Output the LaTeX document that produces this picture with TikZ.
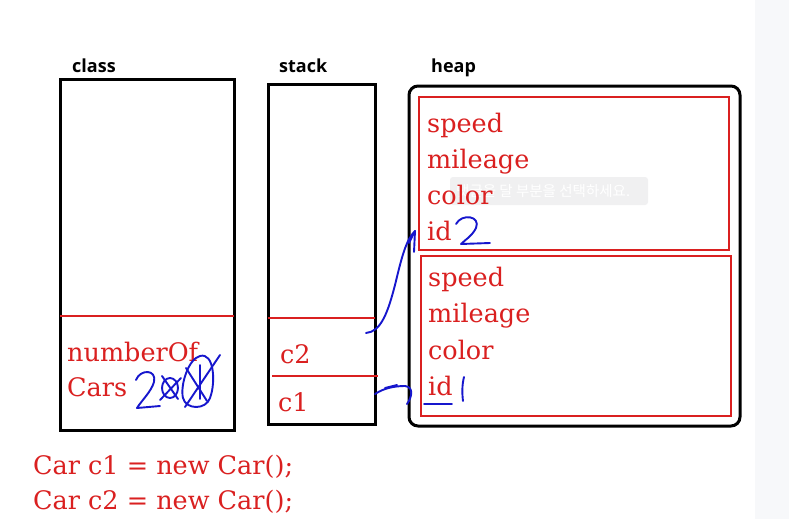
\documentclass[tikz,border=0pt]{standalone}
\usepackage{fontspec}
\usepackage{xcolor}
\setmainfont{DejaVu Serif}
\newfontfamily\headfont{Open Sans}
\newfontfamily\krfont{Noto Sans CJK KR}
\usetikzlibrary{positioning}
\definecolor{memred}{RGB}{218,32,32}
\definecolor{penblue}{RGB}{22,22,205}
\definecolor{sidegray}{RGB}{247,248,250}
\definecolor{tipgray}{RGB}{240,240,241}

\begin{document}
\begin{tikzpicture}[x=1pt, y=-1pt,
  area/.style={black, line width=3pt},
  divider/.style={memred, line width=1.8pt},
  objbox/.style={memred, line width=2pt},
  field/.style={anchor=base west, inner sep=0pt, text=memred, font=\fontsize{25.5}{25.5}\selectfont},
  title/.style={anchor=base west, inner sep=0pt, font=\headfont\bfseries\fontsize{18}{18}\selectfont},
  pen/.style={penblue, line width=1.9pt, line cap=round, line join=round}]
\useasboundingbox (0,0) rectangle (789,519);
\fill[white] (0,0) rectangle (755,519);
\fill[sidegray] (755,0) rectangle (789,519);
% the three memory areas
\node[title] (classlbl) at (72,72) {class};
\node[title] (stacklbl) at (279,72) {stack};
\node[title] (heaplbl) at (431,72) {heap};
\draw[area] (60,79) rectangle (234,430);
\draw[area] (268,84) rectangle (375,424);
\draw[area, rounded corners=9pt] (409,86) rectangle (740,426);
\draw[divider] (60,316) -- (234,316);
\draw[divider] (268,318) -- (375,318);
\draw[divider] (272,376) -- (378,376);
% faint tooltip of the editor
\fill[tipgray, rounded corners=3pt] (450,177) rectangle (648,205);
\node[anchor=west, inner sep=0pt, text=white, font=\krfont\fontsize{14.5}{14.5}\selectfont] (tip) at (456,191) {댓글을 달 부분을 선택하세요.};
% two objects on the heap
\draw[objbox] (419,97) rectangle (729,250);
\draw[objbox] (421,256) rectangle (731,416);
\foreach \f [count=\i] in {speed,mileage,color,id}
  \node[field] (top\f) at (427,96+36*\i) {\f};
\foreach \f [count=\i] in {speed,mileage,color,id}
  \node[field] (low\f) at (428,249.5+36.5*\i) {\f};
% static field and references
\node[field] (numof) at (67,361) {numberOf};
\node[field] (cars) at (67,396) {Cars};
\node[field] (ctwo) at (280,363) {c2};
\node[field] (cone) at (278,411) {c1};
\node[field] (codeone) at (33,474) {Car c1 = new Car();};
\node[field] (codetwo) at (33,509) {Car c2 = new Car();};
% pen marks
\coordinate (c2ptr) at (366,333);
\coordinate (obj2) at (415,231);
\coordinate (c1ptr) at (375,394);
\coordinate (obj1) at (407,404);
\draw[pen] (c2ptr) .. controls (381,332) and (388,312) .. (395,285)
  .. controls (402,256) and (406,240) .. (obj2);
\draw[pen] (obj2) -- (409,243);
\draw[pen] (obj2) -- (414,252);
\draw[pen] (c1ptr) .. controls (384,388) and (395,386) .. (405,386)
  .. controls (414,387) and (412,397) .. (obj1);
\draw[pen] (385,388) -- (397,385);
% counter 2, 0, 1
\draw[pen] (136,380) .. controls (140,369) and (157,369) .. (154,382)
  .. controls (151,392) and (142,400) .. (137,408) -- (160,406);
\draw[pen] (170,388) ellipse (8 and 10);
\draw[pen] (162,376) -- (178,399);
\draw[pen] (160,400) -- (181,378);
\draw[pen] (200,356) .. controls (214,352) and (216,382) .. (210,398)
  .. controls (206,410) and (186,410) .. (183,398)
  .. controls (180,386) and (188,359) .. (200,356);
\draw[pen] (200,365) -- (200,399);
\draw[pen] (186,368) -- (207,401);
\draw[pen] (220,355) -- (185,407);
% ids on the objects
\draw[pen] (456,224) .. controls (462,213) and (481,216) .. (476,228)
  .. controls (472,236) and (465,240) .. (461,244) -- (490,243);
\draw[pen] (424,404) -- (452,404);
\draw[pen] (464,377) .. controls (462,385) and (462,393) .. (463,401);
\end{tikzpicture}
\end{document}
